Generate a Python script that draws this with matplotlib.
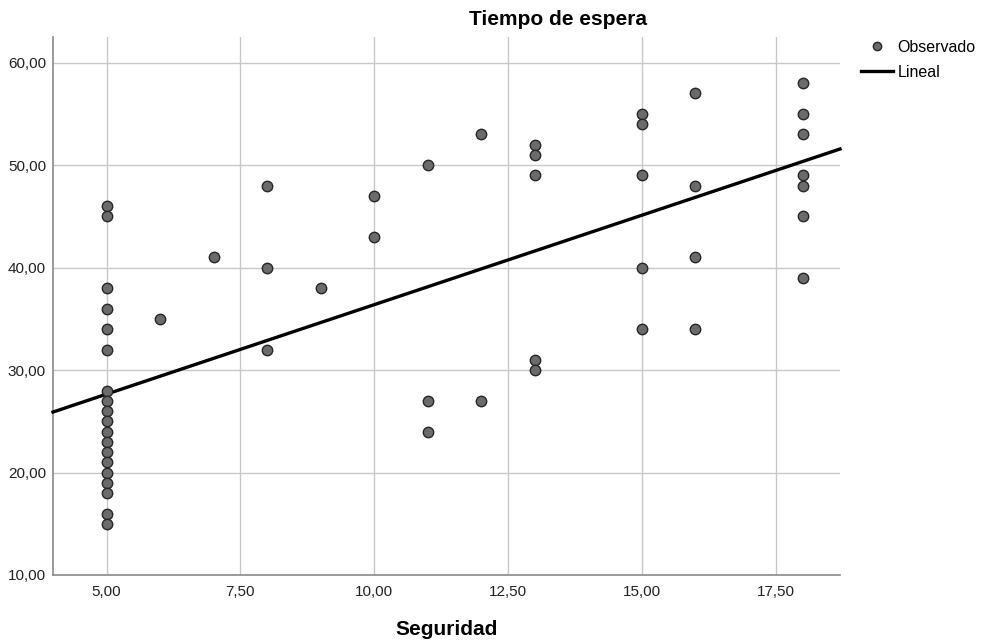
import matplotlib
matplotlib.use("Agg")
import matplotlib.pyplot as plt
import numpy as np
from matplotlib.ticker import FuncFormatter, MultipleLocator
from matplotlib.lines import Line2D

plt.rcParams['font.family'] = ['Liberation Sans', 'DejaVu Sans']

# Data: Seguridad (x) vs Tiempo de espera (y)
seguridad = ([5]*19 + [6] + [7] + [8]*3 + [9] + [10]*2 + [11]*3 + [12]*2
             + [13]*5 + [15]*5 + [16]*4 + [18]*7)
tiempo = ([46, 45, 38, 36, 34, 32, 28, 27, 26, 25, 24, 23, 22, 21, 20, 19, 18, 16, 15]
          + [35] + [41] + [48, 40, 32] + [38] + [47, 43] + [50, 27, 24] + [53, 27]
          + [52, 51, 49, 31, 30] + [55, 54, 49, 40, 34] + [57, 48, 41, 34]
          + [58, 55, 53, 49, 48, 45, 39])

# Linear fit as shown in the chart (intercept, slope)
lineal_intercept = 18.92
lineal_slope = 1.746

title = "Tiempo de espera"
xlabel = "Seguridad"
legend_labels = ["Observado", "Lineal"]

x = np.array(seguridad, dtype=float)
y = np.array(tiempo, dtype=float)

fig = plt.figure(figsize=(9.84, 6.42), dpi=100)
ax = fig.add_axes([53/984, 1-575/642, (840-53)/984, (575-37)/642])

xmin, xmax = 4.0, 18.7
ax.set_xlim(xmin, xmax)
ax.set_ylim(10, 62.5)

ax.xaxis.set_major_locator(MultipleLocator(2.5))
ax.yaxis.set_major_locator(MultipleLocator(10))
fmt = FuncFormatter(lambda v, p: f"{v:.2f}".replace('.', ','))
ax.xaxis.set_major_formatter(fmt)
ax.yaxis.set_major_formatter(fmt)
ax.tick_params(length=0, labelsize=11, colors='#222222', pad=7)
ax.tick_params(axis='y', pad=5)

ax.grid(True, color='#c8c8c8', linewidth=1.0)
ax.set_axisbelow(True)
for s in ['top', 'right']:
    ax.spines[s].set_visible(False)
for s in ['left', 'bottom']:
    ax.spines[s].set_color('#8a8a8a')
    ax.spines[s].set_linewidth(1.2)

xl = np.array([xmin, xmax])
ax.plot(xl, lineal_intercept + lineal_slope*xl, color='black', linewidth=2.4, zorder=3, clip_on=False)
ax.plot(x, y, 'o', markersize=7.5, markerfacecolor='#6b6b6b', markeredgecolor='#262626',
        markeredgewidth=1.0, zorder=4, clip_on=False)

fig.text(558/984, 1-25/642, title, ha='center', va='baseline', fontsize=15, fontweight='bold')
fig.text(447/984, 1-635/642, xlabel, ha='center', va='baseline', fontsize=15, fontweight='bold')

handles = [Line2D([], [], marker='o', linestyle='none', markersize=6.0,
                  markerfacecolor='#6b6b6b', markeredgecolor='#262626', markeredgewidth=1.0),
           Line2D([], [], color='black', linewidth=2.4)]
fig.legend(handles, legend_labels, loc='upper left', bbox_to_anchor=(861/984, 1-40/642),
           frameon=False, fontsize=11.5, handlelength=2.0, handletextpad=0.3,
           labelspacing=0.6, borderaxespad=0, borderpad=0)

fig.savefig("out.png", dpi=100)
